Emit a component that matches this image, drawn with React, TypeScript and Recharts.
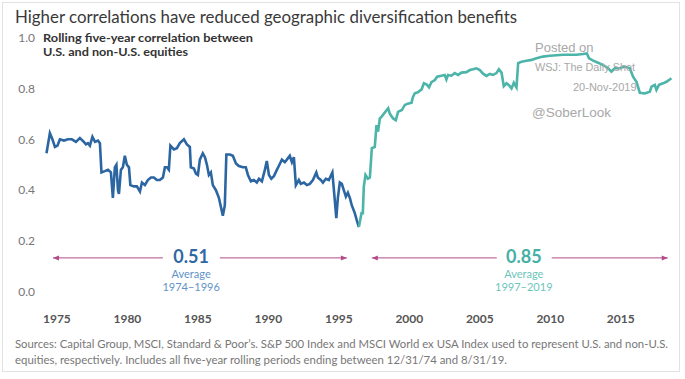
import { LineChart, Line, XAxis, YAxis, ReferenceLine, ReferenceDot } from "recharts";

document.body.style.margin = "0";

// [year, rolling five-year correlation]
const early: [number, number][] = [
  [1974.26, 0.545], [1974.5, 0.624], [1974.68, 0.6], [1974.86, 0.57], [1975.04, 0.575],
  [1975.21, 0.6], [1975.5, 0.595], [1975.78, 0.6], [1976.06, 0.6], [1976.35, 0.59],
  [1976.63, 0.605], [1976.91, 0.59], [1977.06, 0.58], [1977.2, 0.585], [1977.34, 0.575],
  [1977.52, 0.61], [1977.7, 0.59], [1977.91, 0.595], [1978.05, 0.585], [1978.16, 0.47],
  [1978.4, 0.475], [1978.62, 0.48], [1978.83, 0.47], [1978.97, 0.37], [1979.11, 0.49],
  [1979.22, 0.5], [1979.33, 0.4], [1979.4, 0.385], [1979.54, 0.48], [1979.68, 0.49],
  [1979.82, 0.535], [1979.96, 0.5], [1980.11, 0.49], [1980.21, 0.42], [1980.46, 0.415],
  [1980.67, 0.415], [1980.89, 0.395], [1981.03, 0.43], [1981.24, 0.42], [1981.45, 0.44],
  [1981.67, 0.45], [1981.88, 0.45], [1982.09, 0.44], [1982.3, 0.44], [1982.52, 0.45],
  [1982.66, 0.49], [1982.8, 0.49], [1982.94, 0.48], [1983.05, 0.575], [1983.3, 0.56],
  [1983.51, 0.565], [1983.72, 0.585], [1984.01, 0.6], [1984.22, 0.58], [1984.43, 0.57],
  [1984.5, 0.49], [1984.72, 0.485], [1984.86, 0.465], [1985.0, 0.46], [1985.14, 0.52],
  [1985.35, 0.545], [1985.5, 0.53], [1985.64, 0.5], [1985.78, 0.46], [1985.92, 0.47],
  [1986.06, 0.42], [1986.28, 0.4], [1986.49, 0.37], [1986.63, 0.335], [1986.77, 0.3],
  [1986.91, 0.34], [1987.02, 0.54], [1987.27, 0.54], [1987.48, 0.535], [1987.7, 0.505],
  [1987.91, 0.495], [1988.19, 0.49], [1988.4, 0.49], [1988.55, 0.46], [1988.76, 0.435],
  [1988.97, 0.44], [1989.18, 0.43], [1989.33, 0.445], [1989.54, 0.435], [1989.75, 0.48],
  [1989.89, 0.515], [1990.04, 0.46], [1990.21, 0.445], [1990.39, 0.455], [1990.6, 0.48],
  [1990.74, 0.495], [1990.96, 0.52], [1991.17, 0.51], [1991.38, 0.525], [1991.52, 0.535],
  [1991.67, 0.51], [1991.81, 0.53], [1991.95, 0.42], [1992.16, 0.44], [1992.3, 0.425],
  [1992.52, 0.43], [1992.73, 0.42], [1992.94, 0.425], [1993.16, 0.44], [1993.4, 0.47],
  [1993.51, 0.45], [1993.72, 0.44], [1993.87, 0.43], [1994.08, 0.445], [1994.29, 0.44],
  [1994.54, 0.47], [1994.65, 0.4], [1994.82, 0.29], [1994.93, 0.37], [1995.07, 0.43],
  [1995.21, 0.425], [1995.35, 0.4], [1995.5, 0.375], [1995.64, 0.39], [1995.78, 0.37],
  [1995.92, 0.34], [1996.13, 0.31], [1996.28, 0.28], [1996.42, 0.255],
];

const late: [number, number][] = [
  [1996.42, 0.255], [1996.61, 0.31], [1996.7, 0.31], [1996.77, 0.414], [1996.89, 0.46],
  [1997.06, 0.445], [1997.2, 0.45], [1997.34, 0.565], [1997.55, 0.57], [1997.67, 0.656],
  [1997.78, 0.63], [1997.91, 0.682], [1998.05, 0.69], [1998.26, 0.705], [1998.5, 0.722],
  [1998.62, 0.7], [1998.85, 0.682], [1999.04, 0.675], [1999.2, 0.708], [1999.47, 0.715],
  [1999.68, 0.735], [1999.89, 0.74], [2000.16, 0.744], [2000.25, 0.765], [2000.39, 0.781],
  [2000.6, 0.785], [2000.87, 0.796], [2001.03, 0.82], [2001.24, 0.815], [2001.4, 0.804],
  [2001.57, 0.825], [2001.81, 0.833], [2001.97, 0.846], [2002.28, 0.85], [2002.51, 0.853],
  [2002.63, 0.835], [2002.75, 0.853], [2002.99, 0.85], [2003.22, 0.86], [2003.46, 0.853],
  [2003.7, 0.862], [2004.05, 0.864], [2004.29, 0.872], [2004.52, 0.875], [2004.76, 0.879],
  [2005.0, 0.872], [2005.23, 0.858], [2005.47, 0.849], [2005.71, 0.857], [2005.94, 0.853],
  [2006.18, 0.86], [2006.35, 0.875], [2006.54, 0.862], [2006.7, 0.809], [2006.89, 0.82],
  [2007.08, 0.812], [2007.25, 0.8], [2007.41, 0.822], [2007.6, 0.804], [2007.72, 0.899],
  [2007.96, 0.905], [2008.31, 0.909], [2008.67, 0.912], [2009.02, 0.918], [2009.49, 0.925],
  [2009.96, 0.928], [2010.44, 0.93], [2010.91, 0.932], [2011.38, 0.932], [2011.86, 0.932],
  [2012.33, 0.935], [2012.59, 0.937], [2012.75, 0.918], [2013.04, 0.909], [2013.51, 0.898],
  [2013.87, 0.888], [2014.1, 0.879], [2014.34, 0.866], [2014.57, 0.879], [2014.93, 0.879],
  [2015.28, 0.886], [2015.64, 0.879], [2015.87, 0.846], [2016.11, 0.826], [2016.35, 0.783],
  [2016.7, 0.78], [2017.06, 0.787], [2017.18, 0.807], [2017.41, 0.814], [2017.53, 0.794],
  [2017.71, 0.814], [2018.0, 0.82], [2018.24, 0.826], [2018.47, 0.835], [2018.59, 0.84],
];

const xTicks = [1975, 1980, 1985, 1990, 1995, 2000, 2005, 2010, 2015];
const yTicks = [0, 0.2, 0.4, 0.6, 0.8, 1.0];

// averages and the spans their arrows cover
const averages = [
  { value: "0.51", span: "1974–1996", from: 1974.72, gapFrom: 1982.52, gapTo: 1986.56, to: 1995.57, mid: 1984.52 },
  { value: "0.85", span: "1997–2019", from: 1997.34, gapFrom: 2006.2, gapTo: 2010.1, to: 2018.33, mid: 2008.12 },
];
const arrowLevel = 0.134;

const earlyData = early.map(([year, corr]) => ({ year, corr }));
const lateData = late.map(([year, corr]) => ({ year, corr }));

const BLUE = "#2c66a2";
const TEAL = "#4cb4a9";
const PINK = "#b24a88";
const FONT = "Lato, 'Open Sans', sans-serif";

const arrowHead = (dir: number) => (props: any) => {
  const { cx, cy } = props;
  return (
    <path
      d={`M${cx},${cy} L${cx - dir * 6},${cy - 2.5} L${cx - dir * 6},${cy + 2.5} Z`}
      fill={PINK}
    />
  );
};

const avgLabel = (value: string, span: string, main: string, light: string) => (props: any) => {
  const { cx, cy } = props;
  return (
    <g fontFamily={FONT} textAnchor="middle">
      <text x={cx} y={cy + 5} fontSize={18} fontWeight={700} fill={main}>
        {value}
      </text>
      <text x={cx} y={cy + 20} fontSize={11} fill={light}>
        Average
      </text>
      <text x={cx} y={cy + 33} fontSize={11} fill={light}>
        {span}
      </text>
    </g>
  );
};

export default function App() {
  return (
    <div style={{ position: "relative", width: 685, height: 379, background: "#fff" }}>
      <LineChart width={685} height={379} margin={{ top: 37.5, right: 5, left: 10, bottom: 57 }}>
        <XAxis
          dataKey="year"
          type="number"
          domain={[1973.8, 2019.2]}
          ticks={xTicks}
          interval={0}
          axisLine={false}
          tickLine={false}
          tickSize={0}
          tickMargin={22}
          height={30}
          tick={{ fill: "#555", fontSize: 12, fontWeight: 700, fontFamily: FONT }}
        />
        <YAxis
          type="number"
          domain={[0, 1]}
          ticks={yTicks}
          interval={0}
          axisLine={false}
          tickLine={false}
          tickSize={0}
          tickMargin={5}
          width={30}
          tickFormatter={(v: number) => v.toFixed(1)}
          tick={{ fill: "#777", fontSize: 12, fontFamily: FONT }}
        />
        {averages.map((a) => (
          <ReferenceLine
            key={a.value + "l"}
            segment={[{ x: a.from, y: arrowLevel }, { x: a.gapFrom, y: arrowLevel }]}
            stroke={PINK}
            strokeWidth={1}
          />
        ))}
        {averages.map((a) => (
          <ReferenceLine
            key={a.value + "r"}
            segment={[{ x: a.gapTo, y: arrowLevel }, { x: a.to, y: arrowLevel }]}
            stroke={PINK}
            strokeWidth={1}
          />
        ))}
        {averages.map((a) => (
          <ReferenceDot key={a.value + "a"} x={a.from} y={arrowLevel} shape={arrowHead(-1)} />
        ))}
        {averages.map((a) => (
          <ReferenceDot key={a.value + "b"} x={a.to} y={arrowLevel} shape={arrowHead(1)} />
        ))}
        <ReferenceDot
          x={averages[0].mid}
          y={arrowLevel}
          shape={avgLabel(averages[0].value, averages[0].span, "#2f69a4", "#5f93c8")}
        />
        <ReferenceDot
          x={averages[1].mid}
          y={arrowLevel}
          shape={avgLabel(averages[1].value, averages[1].span, "#45b0a5", "#6cc5bb")}
        />
        <Line
          data={earlyData}
          dataKey="corr"
          stroke={BLUE}
          strokeWidth={2.6}
          dot={false}
          type="linear"
          isAnimationActive={false}
        />
        <Line
          data={lateData}
          dataKey="corr"
          stroke={TEAL}
          strokeWidth={2.6}
          dot={false}
          type="linear"
          isAnimationActive={false}
        />
      </LineChart>
      <svg
        width={685}
        height={379}
        style={{ position: "absolute", left: 0, top: 0, pointerEvents: "none" }}
        fontFamily={FONT}
      >
        <rect x={2.5} y={2.5} width={677} height={369} fill="none" stroke="#e2e2e2" />
        <text x={15} y={23} fontSize={17} fill="#3a3a3a" textLength={502} lengthAdjust="spacingAndGlyphs">
          Higher correlations have reduced geographic diversification benefits
        </text>
        <text x={43} y={42} fontSize={11.5} fontWeight={700} fill="#333" textLength={210} lengthAdjust="spacingAndGlyphs">
          Rolling five-year correlation between
        </text>
        <text x={43} y={56} fontSize={11.5} fontWeight={700} fill="#333" textLength={145} lengthAdjust="spacingAndGlyphs">
          U.S. and non-U.S. equities
        </text>
        <g fontFamily="'Liberation Sans', Arial, sans-serif" fill="#a8a8a8">
          <text x={535} y={52} fontSize={13}>Posted on</text>
          <text x={535} y={71} fontSize={10.8} textLength={100} lengthAdjust="spacingAndGlyphs">WSJ: The Daily Shot</text>
          <text x={573} y={91} fontSize={11}>20-Nov-2019</text>
          <text x={532} y={117} fontSize={13.5}>@SoberLook</text>
        </g>
        <text x={15} y={348} fontSize={10.5} fill="#777" textLength={653} lengthAdjust="spacingAndGlyphs">
          Sources: Capital Group, MSCI, Standard &amp; Poor’s. S&amp;P 500 Index and MSCI World ex USA Index used to represent U.S. and non-U.S.
        </text>
        <text x={15} y={364} fontSize={10.5} fill="#777" textLength={492} lengthAdjust="spacingAndGlyphs">
          equities, respectively. Includes all five-year rolling periods ending between 12/31/74 and 8/31/19.
        </text>
      </svg>
    </div>
  );
}
